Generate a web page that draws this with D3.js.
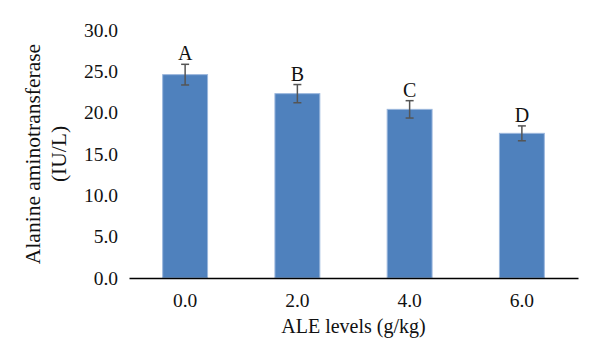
<!DOCTYPE html>
<html>
<head>
<meta charset="utf-8">
<script src="https://cdn.jsdelivr.net/npm/d3@7"></script>
<style>
  body { margin: 0; background: #fff; }
  text { font-family: "Liberation Serif", "Times New Roman", serif; fill: #111; }
</style>
</head>
<body>
<div id="chart"></div>
<script>
// data
const levels = ['0.0', '2.0', '4.0', '6.0'];
const altValues = [24.6, 22.3, 20.4, 17.5];
const altErrors = [1.25, 1.1, 1.05, 0.9];
const groupLetters = ['A', 'B', 'C', 'D'];
const yTicks = [0, 5, 10, 15, 20, 25, 30];

const width = 600;
const height = 362;
const margin = { top: 30, right: 22, bottom: 84, left: 129 };
const w = width - margin.left - margin.right;
const h = height - margin.top - margin.bottom;

const svg = d3.select('#chart')
  .append('svg')
  .attr('width', width)
  .attr('height', height)
  .append('g')
  .attr('transform', `translate(${margin.left},${margin.top})`);

const x = d3.scaleBand()
  .domain(levels)
  .range([0, w])
  .paddingInner(0.6)
  .paddingOuter(0.3);

const y = d3.scaleLinear()
  .domain([0, 30])
  .range([h, 0]);

const rows = levels.map((l, i) => ({ level: l, v: altValues[i], e: altErrors[i], g: groupLetters[i] }));

// bars
svg.selectAll('.bar')
  .data(rows)
  .enter().append('rect')
  .attr('class', 'bar')
  .attr('x', d => x(d.level))
  .attr('y', d => y(d.v))
  .attr('width', x.bandwidth())
  .attr('height', d => h - y(d.v))
  .attr('fill', '#4f81bd')
  .attr('stroke', '#9bb7dd')
  .attr('stroke-width', 1);

// error bars
const err = svg.selectAll('.err')
  .data(rows)
  .enter().append('g')
  .attr('class', 'err')
  .attr('stroke', '#555')
  .attr('stroke-width', 1.5);

err.append('line')
  .attr('x1', d => x(d.level) + x.bandwidth() / 2)
  .attr('x2', d => x(d.level) + x.bandwidth() / 2)
  .attr('y1', d => y(d.v + d.e))
  .attr('y2', d => y(d.v - d.e));

err.append('line')
  .attr('x1', d => x(d.level) + x.bandwidth() / 2 - 4)
  .attr('x2', d => x(d.level) + x.bandwidth() / 2 + 4)
  .attr('y1', d => y(d.v + d.e))
  .attr('y2', d => y(d.v + d.e));

err.append('line')
  .attr('x1', d => x(d.level) + x.bandwidth() / 2 - 4)
  .attr('x2', d => x(d.level) + x.bandwidth() / 2 + 4)
  .attr('y1', d => y(d.v - d.e))
  .attr('y2', d => y(d.v - d.e));

// letters
svg.selectAll('.letter')
  .data(rows)
  .enter().append('text')
  .attr('class', 'letter')
  .attr('x', d => x(d.level) + x.bandwidth() / 2)
  .attr('y', d => y(d.v + d.e) - 4)
  .attr('text-anchor', 'middle')
  .style('font-size', '20px')
  .text(d => d.g);

// x axis
const xAxis = svg.append('g')
  .attr('class', 'x-axis')
  .attr('transform', `translate(0,${h})`)
  .call(d3.axisBottom(x).tickSize(0).tickPadding(15));
xAxis.select('.domain').attr('stroke', '#000').attr('stroke-width', 1.3);
xAxis.selectAll('text').style('font-size', '19.5px').attr('fill', '#111');

// y axis
const yAxis = svg.append('g')
  .attr('class', 'y-axis')
  .call(d3.axisLeft(y).tickValues(yTicks).tickFormat(d3.format('.1f')).tickSize(0).tickPadding(11));
yAxis.select('.domain').remove();
yAxis.selectAll('text').style('font-size', '19.5px').attr('fill', '#111');

// titles
svg.append('text')
  .attr('x', w / 2)
  .attr('y', h + 55)
  .attr('text-anchor', 'middle')
  .style('font-size', '20px')
  .text('ALE levels (g/kg)');

const yTitle = svg.append('text')
  .attr('transform', `translate(${-89},${h / 2}) rotate(-90)`)
  .attr('text-anchor', 'middle')
  .style('font-size', '21.5px');
yTitle.append('tspan').attr('x', 0).attr('dy', 0).text('Alanine aminotransferase');
yTitle.append('tspan').attr('x', 0).attr('dy', 26).text('(IU/L)');
</script>
</body>
</html>
